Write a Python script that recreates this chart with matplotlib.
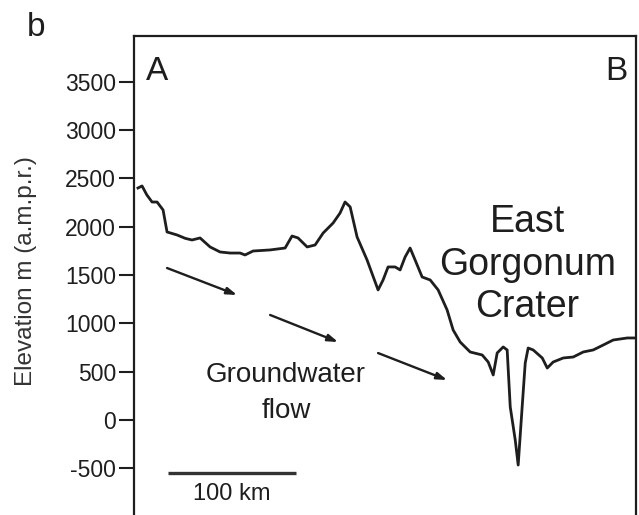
import matplotlib
matplotlib.use("Agg")
import matplotlib.pyplot as plt

plt.rcParams['font.family'] = ['Liberation Sans', 'DejaVu Sans']

# Profile A-B: distance (km) and elevation (m a.m.p.r.)
distance_km = [3.1, 6.3, 10.0, 14.1, 18.0, 22.7, 25.8, 33.6, 40.0, 45.3, 51.6, 59.4, 67.2, 75.0, 82.8,
               86.7, 93.0, 106.3, 118.0, 123.4, 128.1, 135.2, 141.4, 147.7, 155.5, 160.9,
               164.8, 168.8, 174.2, 182.0, 190.6, 194.5, 198.4, 203.9, 207.8, 211.7, 215.6,
               219.5, 225.0, 231.3, 237.5, 244.5, 249.2, 254.7, 262.5, 271.9, 276.6, 280.5,
               283.6, 288.3, 291.4, 293.8, 297.7, 300.0, 303.1, 305.5, 307.8, 311.7, 318.8,
               322.7, 327.3, 335.2, 343.0, 350.8, 358.6, 366.4, 374.2, 385.2, 393.0]
elevation_m = [2401, 2422, 2330, 2256, 2256, 2174, 1946, 1915, 1880, 1863, 1884, 1791, 1739, 1728, 1728,
               1708, 1749, 1760, 1780, 1904, 1884, 1791, 1811, 1935, 2039, 2142,
               2256, 2205, 1894, 1656, 1346, 1449, 1584, 1584, 1553, 1687, 1780,
               1656, 1480, 1449, 1346, 1139, 932, 807, 704, 673, 600, 466,
               694, 756, 725, 135, -207, -466, 135, 590, 745, 725, 642,
               538, 600, 642, 652, 704, 725, 776, 828, 849, 849]

yticks = [-500, 0, 500, 1000, 1500, 2000, 2500, 3000, 3500]
ylabel = "Elevation m (a.m.p.r.)"
scale_bar_km = [26.6, 126.6]
scale_bar_y = [-549, -549]

# arrows: (start, end) in data coords
arrows = [((25.8, 1573), (80.5, 1294)),
          ((106.3, 1087), (159.4, 807)),
          ((190.6, 693), (244.5, 414))]

W, H = 639, 515
fig = plt.figure(figsize=(W / 100, H / 100), dpi=100)
fig.patch.set_facecolor('white')
ax = fig.add_axes([134 / W, 0.0, (636 - 134) / W, 1 - 36 / H])

ink = '#1e1e1e'
ax.plot(distance_km, elevation_m, color=ink, lw=2.0, solid_joinstyle='round')

ax.set_xlim(0, 392)
ax.set_ylim(-983, 3974)
ax.set_xticks([])
ax.set_yticks(yticks)
ax.set_yticklabels([str(t) for t in yticks], fontsize=16.5, color=ink)
ax.tick_params(axis='y', direction='out', length=11, width=1.5, pad=2, colors=ink)
for s in ['left', 'top', 'right']:
    ax.spines[s].set_linewidth(1.6)
    ax.spines[s].set_color(ink)
ax.spines['bottom'].set_visible(False)

# corner labels
ax.text(9.5, 3519, "A", fontsize=24, color=ink, ha='left', va='baseline')
ax.text(385.2, 3519, "B", fontsize=24, color=ink, ha='right', va='baseline')

# crater label
ax.text(307, 1946, "East", fontsize=27, color=ink, ha='center', va='baseline')
ax.text(307, 1500, "Gorgonum", fontsize=27, color=ink, ha='center', va='baseline')
ax.text(307, 1067, "Crater", fontsize=27, color=ink, ha='center', va='baseline')

# groundwater
ax.text(118.75, 393, "Groundwater", fontsize=20, color=ink, ha='center', va='baseline')
ax.text(118.75, 21, "flow", fontsize=20, color=ink, ha='center', va='baseline')
for (x0, y0), (x1, y1) in arrows:
    ax.annotate("", xy=(x1, y1), xytext=(x0, y0),
                arrowprops=dict(arrowstyle='-|>,head_length=0.6,head_width=0.2',
                                color=ink, lw=1.7, shrinkA=0, shrinkB=0))

# scale bar
ax.plot(scale_bar_km, scale_bar_y, color='#333333', lw=2.4, solid_capstyle='butt')
ax.text(sum(scale_bar_km) / 2, -828, "100 km", fontsize=17, color=ink,
        ha='center', va='baseline')

fig.text(27 / W, 1 - 36 / H, "b", fontsize=24, color=ink, ha='left', va='baseline')
fig.text(26 / W, 1 - 271 / H, ylabel, fontsize=17.5, color='#333333',
         rotation=90, ha='center', va='center')

fig.savefig("out.png", dpi=100, facecolor='white')
